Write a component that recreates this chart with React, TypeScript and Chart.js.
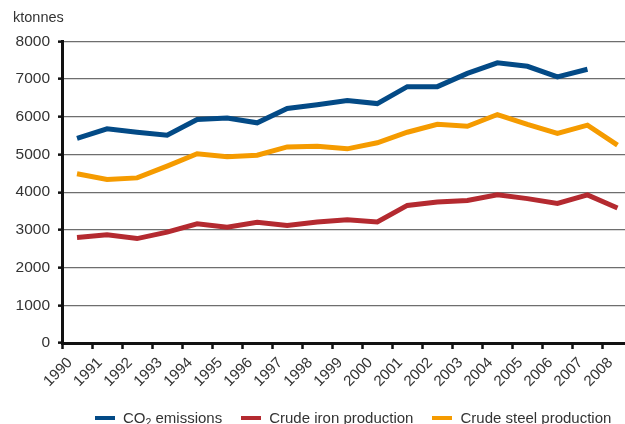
import React, { useEffect, useRef } from "react";
import { Chart, registerables } from "chart.js";

Chart.register(...registerables);

const years = ["1990","1991","1992","1993","1994","1995","1996","1997","1998","1999","2000","2001","2002","2003","2004","2005","2006","2007","2008"];
const co2Emissions = [5430, 5680, 5590, 5510, 5930, 5970, 5840, 6220, 6320, 6430, 6350, 6800, 6800, 7150, 7430, 7340, 7060, 7260, null];
const crudeIron = [2800, 2870, 2770, 2940, 3160, 3070, 3200, 3120, 3210, 3270, 3210, 3650, 3740, 3780, 3930, 3830, 3700, 3930, 3580];
const crudeSteel = [4490, 4340, 4380, 4690, 5020, 4940, 4980, 5200, 5220, 5150, 5310, 5590, 5800, 5750, 6060, 5800, 5560, 5780, 5250];
const yTicks = [0, 1000, 2000, 3000, 4000, 5000, 6000, 7000, 8000];

const seriesNames = ["CO2 emissions", "Crude iron production", "Crude steel production"];
const seriesColors = ["#034a86", "#b42a30", "#f59b00"];

const FONT = "'Liberation Sans', Arial, sans-serif";

function toPoints(values: (number | null)[]) {
  return values.map((v, i) => ({ x: i + 0.5, y: v }));
}

export default function App() {
  const canvasRef = useRef<HTMLCanvasElement | null>(null);

  useEffect(() => {
    document.body.style.margin = "0";
    const canvas = canvasRef.current;
    if (!canvas) return;
    const chart = new Chart(canvas, {
      type: "line",
      data: {
        datasets: [co2Emissions, crudeIron, crudeSteel].map((vals, k) => ({
          label: seriesNames[k],
          data: toPoints(vals),
          borderColor: seriesColors[k],
          backgroundColor: seriesColors[k],
          borderWidth: 5,
          pointRadius: 0,
          pointHoverRadius: 0,
          tension: 0,
          fill: false,
          spanGaps: false,
        })),
      },
      options: {
        animation: false,
        responsive: true,
        maintainAspectRatio: false,
        layout: { padding: { left: 13, right: 0, top: 0, bottom: 0 } },
        plugins: {
          legend: { display: false },
          tooltip: { enabled: false },
          title: {
            display: true,
            text: "ktonnes",
            align: "start",
            color: "#333333",
            font: { family: FONT, size: 14.5, weight: "normal" },
            padding: { top: 9, bottom: 15 },
          },
        },
        scales: {
          x: {
            type: "linear",
            min: 0,
            max: 18.75,
            afterFit: (scale: any) => {
              scale.height = 81;
            },
            ticks: {
              stepSize: 1,
              includeBounds: false,
              autoSkip: false,
              maxRotation: 45,
              minRotation: 45,
              labelOffset: 8,
              padding: 5,
              color: "#333333",
              font: { family: FONT, size: 15 },
              callback: (v: any) => {
                const i = Number(v);
                return Number.isInteger(i) && i >= 0 && i < years.length ? years[i] : "";
              },
            },
            grid: {
              display: true,
              drawOnChartArea: false,
              drawTicks: true,
              tickLength: 6,
              tickColor: "#111111",
              tickWidth: 2.5,
            },
            border: { display: true, color: "#111111", width: 3 },
          },
          y: {
            min: 0,
            max: 8000,
            afterFit: (scale: any) => {
              scale.width = 49;
            },
            afterBuildTicks: (scale: any) => {
              scale.ticks = yTicks.map((v) => ({ value: v }));
            },
            ticks: {
              padding: 8,
              color: "#333333",
              font: { family: FONT, size: 15.5 },
              callback: (v: any) => String(v),
            },
            grid: {
              color: "#6e6e6e",
              lineWidth: 1.3,
              tickLength: 4,
              tickColor: "#111111",
              tickWidth: 2.5,
            },
            border: { display: true, color: "#111111", width: 3 },
          },
        },
      },
    });
    return () => chart.destroy();
  }, []);

  return (
    <div style={{ position: "fixed", left: 0, top: 0, width: 625, height: 424, overflow: "hidden", background: "#fff" }}>
      <canvas ref={canvasRef} />
      <div
        style={{
          position: "absolute",
          left: 95,
          top: 409,
          display: "flex",
          alignItems: "center",
          gap: 19,
          fontFamily: FONT,
          fontSize: 15,
          lineHeight: "17px",
          color: "#333333",
          whiteSpace: "nowrap",
        }}
      >
        {seriesNames.map((name, k) => (
          <div key={name} style={{ display: "flex", alignItems: "center" }}>
            <span style={{ display: "inline-block", width: 20, height: 4, background: seriesColors[k], marginRight: 8 }} />
            <span>
              {k === 0 ? (
                <>
                  CO<sub style={{ fontSize: "0.7em", lineHeight: 0, verticalAlign: "-0.25em" }}>2</sub> emissions
                </>
              ) : (
                name
              )}
            </span>
          </div>
        ))}
      </div>
    </div>
  );
}
